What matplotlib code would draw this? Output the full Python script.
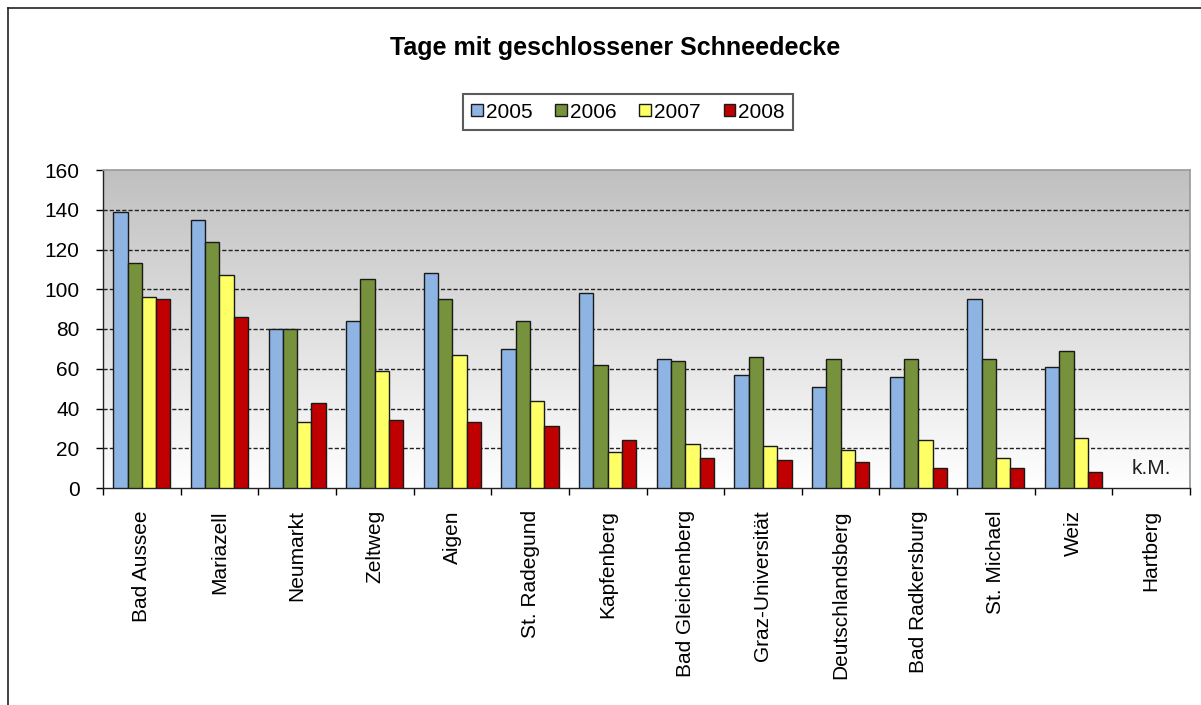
import matplotlib
matplotlib.use("Agg")
import matplotlib.pyplot as plt
import numpy as np
from matplotlib.lines import Line2D
from matplotlib.patches import Patch
from matplotlib.colors import LinearSegmentedColormap

plt.rcParams['font.family'] = ['Liberation Sans', 'DejaVu Sans']

# Daten: Tage mit geschlossener Schneedecke (Hartberg: keine Messung)
stationen = ["Bad Aussee", "Mariazell", "Neumarkt", "Zeltweg", "Aigen", "St. Radegund",
             "Kapfenberg", "Bad Gleichenberg", "Graz-Universität", "Deutschlandsberg",
             "Bad Radkersburg", "St. Michael", "Weiz", "Hartberg"]
jahre = ["2005", "2006", "2007", "2008"]
tage_2005 = [139, 135, 80, 84, 108, 70, 98, 65, 57, 51, 56, 95, 61, np.nan]
tage_2006 = [113, 124, 80, 105, 95, 84, 62, 64, 66, 65, 65, 65, 69, np.nan]
tage_2007 = [96, 107, 33, 59, 67, 44, 18, 22, 21, 19, 24, 15, 25, np.nan]
tage_2008 = [95, 86, 43, 34, 33, 31, 24, 15, 14, 13, 10, 10, 8, np.nan]
farben = ["#8DB4E2", "#76923C", "#FFFF66", "#C00000"]

serien = [tage_2005, tage_2006, tage_2007, tage_2008]

fig = plt.figure(figsize=(12.01, 7.05), dpi=100)
ax = fig.add_axes([103/1201, 1 - 488/705, (1190-103)/1201, (488-170)/705])

# Verlauf im Hintergrund (grau oben, weiss unten)
verlauf = LinearSegmentedColormap.from_list("verlauf", ["#ffffff", "#c0c0c0"])
grad = np.linspace(0, 1, 256).reshape(-1, 1)
ax.imshow(grad, extent=[-0.5, 13.5, 0, 160], aspect='auto', cmap=verlauf,
          origin='lower', zorder=0)

x = np.arange(len(stationen))
w = 0.184
for i, (werte, farbe) in enumerate(zip(serien, farben)):
    ax.bar(x + (i - 1.5) * w, werte, width=w, color=farbe, edgecolor='#1a1a1a',
           linewidth=1.0, zorder=3)

ax.set_xlim(-0.5, 13.5)
ax.set_ylim(0, 160)
ax.set_yticks(range(0, 161, 20))
for y in range(20, 160, 20):
    ax.axhline(y, color='#222222', linestyle=(0, (3, 1.5)), linewidth=1.0, zorder=2)

ax.set_xticks(x)
ax.set_xticklabels(stationen, rotation=90, fontsize=15)
ax.set_xticks(np.arange(-0.5, 14, 1), minor=True)
ax.tick_params(axis='x', which='major', length=0, pad=16)
ax.tick_params(axis='x', which='minor', length=5, width=1, direction='out')
ax.tick_params(axis='y', labelsize=15, length=5, width=1, direction='out', pad=12)

for s in ['top', 'right']:
    ax.spines[s].set_color('#999999')
    ax.spines[s].set_linewidth(1.2)
for s in ['left', 'bottom']:
    ax.spines[s].set_color('#222222')
    ax.spines[s].set_linewidth(1.0)

ax.text(13, 10, "k.M.", ha='center', va='center', fontsize=15, color='#222222', zorder=4)

fig.text(0.512, 1 - 48/705, "Tage mit geschlossener Schneedecke", ha='center', va='center',
         fontsize=18, fontweight='bold')

handles = [Patch(facecolor=f, edgecolor='#1a1a1a', linewidth=1.0) for f in farben]
leg = fig.legend(handles, jahre, loc='center', bbox_to_anchor=(628/1201, 1 - 112/705),
                 ncol=4, fontsize=15, frameon=True, fancybox=False, edgecolor='#333333',
                 handlelength=0.55, handleheight=0.55, handletextpad=0.15, columnspacing=1.1,
                 borderpad=0.4)
leg.get_frame().set_linewidth(1.5)

# Rahmen des Diagramms
fig.add_artist(Line2D([8/1201, 8/1201], [0, 1 - 8/705], color='#222222', linewidth=1.2))
fig.add_artist(Line2D([8/1201, 1], [1 - 8/705, 1 - 8/705], color='#222222', linewidth=1.2))

fig.savefig("out.png", dpi=100)
